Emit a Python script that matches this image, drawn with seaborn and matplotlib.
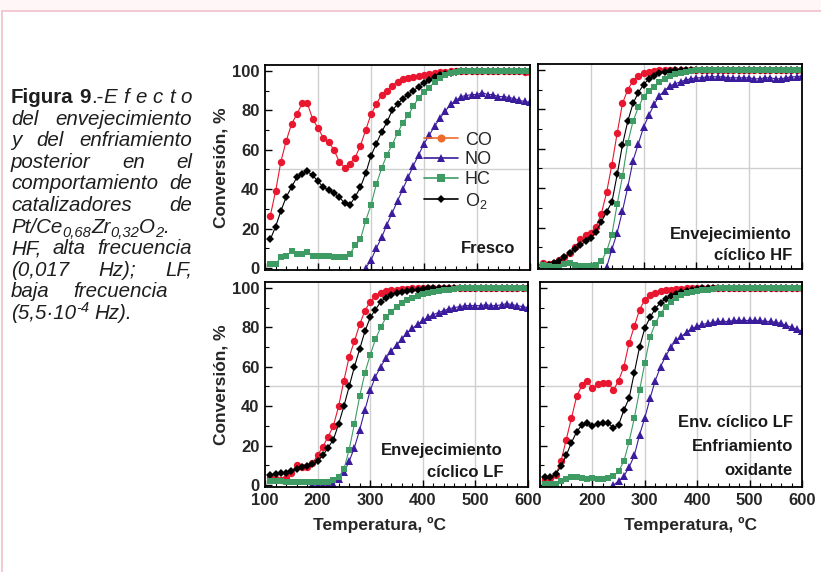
import numpy as np
import pandas as pd
import matplotlib
matplotlib.use("Agg")
import matplotlib.pyplot as plt
from matplotlib.lines import Line2D
from matplotlib.patches import Rectangle
from matplotlib.ticker import MultipleLocator
from matplotlib import font_manager
import seaborn as sns

nan = np.nan

# temperatures (ºC) of the measured points
temps = [110, 120, 130, 140, 150, 160, 170, 180, 190, 200,
         210, 220, 230, 240, 250, 260, 270, 280, 290, 300,
         310, 320, 330, 340, 350, 360, 370, 380, 390, 400,
         410, 420, 430, 440, 450, 460, 470, 480, 490, 500,
         510, 520, 530, 540, 550, 560, 570, 580, 590, 600]

# Fresco
co_fresco = [26.5, 39, 54, 64.5, 73, 78, 83.5, 83.5, 75.5, 71,
             66, 64, 60, 54, 51, 53, 56, 62, 70, 78,
             83, 88, 90, 92.5, 94.5, 96, 96.5, 97, 97.5, 98,
             98.5, 99, 99.5, 99.5, 100, 100, 100, 100, 100, 100,
             100, 100, 100, 100, 100, 100, 100, 100, 99.5, 99.5]
no_fresco = [nan, nan, nan, nan, nan, nan, nan, nan, nan, nan,
             nan, nan, nan, nan, nan, nan, nan, nan, 0, 4,
             10, 15.5, 22, 28, 34, 40, 46, 52, 57.5, 63,
             67.5, 72, 76, 79.5, 83, 85, 87, 87.5, 88, 88,
             89, 88, 88, 87, 87, 86.5, 86, 85, 84.5, 84]
hc_fresco = [2, 2, 5.5, 6, 8.5, 7, 7, 8, 6, 6,
             6, 6, 5.5, 5.5, 5.5, 7, 11.5, 14.5, 24, 32,
             42.5, 50.5, 57.5, 62.5, 68.5, 73.5, 77.5, 82, 86.5, 89.5,
             91.5, 94.5, 96.5, 98, 99, 99.5, 100, 100, 100, 100,
             100, 100, 100, 100, 100, 100, 100, 100, 100, 100]
o2_fresco = [14.5, 21, 29, 36, 41, 46, 47.5, 49, 47, 44,
             41, 39.5, 38, 36, 33, 32, 36, 41, 48, 57,
             63, 69, 74, 80, 83, 86, 88, 90, 92, 94,
             95.5, 97, 98, 98.5, 99, 99.5, 100, 100, 100, 100,
             100, 100, 100, 100, 100, 100, 100, 100, 100, 100]

# Envejecimiento ciclico HF
co_hf = [2, 1.5, 2, 3.5, 5, 7, 10, 14, 16, 17.5,
         20.5, 27, 38, 52, 68, 83, 90, 94.5, 97, 98.5,
         99, 99.5, 100, 100, 100, 100, 100, 100, 100, 100,
         100, 100, 100, 100, 100, 100, 100, 100, 100, 100,
         100, 100, 100, 100, 100, 100, 100, 100, 100, 100]
no_hf = [nan, nan, nan, nan, nan, nan, nan, nan, nan, nan,
         nan, nan, 0, 9, 17.5, 28.5, 40.5, 54, 62.5, 71,
         77, 82.5, 87, 89.5, 92, 93, 94, 95, 95.5, 96,
         96, 96.5, 96.5, 96.5, 96.5, 96, 96, 96, 96, 96,
         95.5, 95.5, 96, 96, 95.5, 95.5, 96, 96.5, 96.5, 97]
hc_hf = [1, 0.5, 0, 0, 1.5, 2, 1, 0.5, 0.5, 0.5,
         1, 3, 8, 16.5, 32, 46, 63, 74, 81, 86.5,
         89.5, 91.5, 94, 95.5, 97, 98, 98.5, 99, 99.5, 100,
         100, 100, 100, 100, 100, 100, 100, 100, 100, 100,
         100, 100, 100, 100, 100, 100, 100, 100, 100, 100]
o2_hf = [1, 1, 2, 3, 5, 7, 9, 11, 13, 14.5,
         18, 23, 28, 33, 47, 62, 74, 83, 88.5, 92.5,
         95.5, 97, 98.5, 99, 99.5, 100, 100, 100, 100, 100,
         100, 100, 100, 100, 100, 100, 100, 100, 100, 100,
         100, 100, 100, 100, 100, 100, 100, 100, 100, 100]

# Envejecimiento ciclico LF
co_lf = [4, 3, 2.5, 3.5, 6, 10, 9, 9, 11, 15,
         19.5, 24.5, 30, 40, 53, 65, 73, 81.5, 88.5, 93,
         96, 97.5, 98.5, 99, 99, 99.5, 99.5, 100, 100, 100,
         100, 100, 100, 100, 100, 100, 100, 100, 100, 100,
         100, 100, 100, 100, 100, 100, 100, 100, 100, 100]
no_lf = [nan, nan, nan, nan, nan, nan, nan, nan, 0, 0,
         0, 0, 0.5, 3, 6.5, 12, 19, 28, 38, 48,
         55, 60, 64.5, 68, 71, 74, 77, 79.5, 81.5, 83.5,
         85, 86.5, 87.5, 88.5, 89.5, 90, 90.5, 91, 91, 91,
         91, 91.5, 91, 91, 91.5, 92, 91.5, 91, 90.5, 90]
hc_lf = [2, 2, 2, 1.5, 1.5, 1.5, 1.5, 1.5, 1.5, 1.5,
         1.5, 1.5, 2.5, 4, 8, 18, 31, 45, 57, 66,
         74, 80, 85, 88, 90.5, 92.5, 94, 95, 96, 97,
         97.5, 98, 98.5, 99, 99, 99.5, 100, 100, 100, 100,
         100, 100, 100, 100, 100, 100, 100, 100, 100, 99.5]
o2_lf = [5, 5.5, 6, 6, 7, 8, 9, 9.5, 10.5, 12,
         15, 19, 23, 31, 40, 50, 60, 69, 78, 85,
         89, 93, 95, 96.5, 97.5, 98, 98.5, 99, 99, 99.5,
         100, 100, 100, 100, 100, 100, 100, 100, 100, 100,
         100, 100, 100, 100, 100, 100, 100, 100, 100, 100]

# Env. ciclico LF + enfriamiento oxidante
co_ox = [3, 3.5, 5, 12, 23, 34, 45, 50.5, 53, 49,
         51, 52, 52, 48, 53, 60, 72, 80.5, 89, 94,
         96.5, 97.5, 98.5, 99, 99, 99.5, 99.5, 100, 100, 100,
         100, 100, 100, 100, 100, 100, 100, 100, 100, 100,
         100, 100, 100, 100, 100, 100, 100, 100, 100, 100]
no_ox = [nan, nan, nan, nan, nan, nan, nan, nan, nan, nan,
         nan, nan, nan, 0, 2, 4.5, 9, 15, 25.5, 34,
         44, 53, 60, 65.5, 70, 73.5, 75.5, 77.5, 79.5, 80.5,
         81.5, 82, 82.5, 83, 83, 83, 83.5, 83.5, 83.5, 83.5,
         83.5, 83.5, 83, 83, 82.5, 82, 81, 80, 79, 78]
hc_ox = [0.5, 0.5, 0.5, 2, 3, 4, 4, 3.5, 3, 3.5,
         3, 3, 3.5, 4.5, 7, 12, 22, 34, 48, 62,
         75, 82, 87, 90.5, 93, 95, 96.5, 97.5, 98, 98.5,
         99, 99, 99.5, 100, 100, 100, 100, 100, 100, 100,
         100, 100, 100, 100, 100, 100, 100, 100, 100, 100]
o2_ox = [4, 4, 5.5, 9.5, 15, 21.5, 27, 30.5, 31.5, 30,
         31, 31.5, 31.5, 29, 30.5, 38, 44, 57, 70, 79.5,
         85, 89.5, 92.5, 94.5, 96, 97, 98, 98.5, 99, 99.5,
         100, 100, 100, 100, 100, 100, 100, 100, 100, 100,
         100, 100, 100, 100, 100, 100, 100, 100, 100, 100]

panel_labels = ["Fresco", "Envejecimiento\ncíclico HF",
                "Envejecimiento\ncíclico LF", "Env. cíclico LF\nEnfriamiento\noxidante"]
gases = ["CO", "O2", "NO", "HC"]          # drawing order
legend_gases = ["CO", "NO", "HC", "O2"]
legend_labels = ["CO", "NO", "HC", "O$_2$"]
x_ticks = [100, 200, 300, 400, 500, 600]
y_ticks = [0, 20, 40, 60, 80, 100]

caption_lines = [
    ("justify", [[("Figura", "b")], [("9", "b"), (".-", "r"), ("E", "i")], [("f", "i")],
                 [("e", "i")], [("c", "i")], [("t", "i")], [("o", "i")]]),
    ("justify", [[("del", "i")], [("envejecimiento", "i")]]),
    ("justify", [[("y", "i")], [("del", "i")], [("enfriamiento", "i")]]),
    ("justify", [[("posterior", "i")], [("en", "i")], [("el", "i")]]),
    ("justify", [[("comportamiento", "i")], [("de", "i")]]),
    ("justify", [[("catalizadores", "i")], [("de", "i")]]),
    ("left", [[("Pt/Ce", "i"), ("0,68", "sub"), ("Zr", "i"), ("0,32", "sub"),
               ("O", "i"), ("2", "sub"), (".", "i")]]),
    ("justify", [[("HF,", "i")], [("alta", "i")], [("frecuencia", "i")]]),
    ("justify", [[("(0,017", "i")], [("Hz);", "i")], [("LF,", "i")]]),
    ("short", [[("baja", "i")], [("frecuencia", "i")]]),
    ("left", [[("(5,5·10", "i"), ("-4", "sup")], [("Hz).", "i")]]),
]

# long table for seaborn
series = {
    0: {"CO": co_fresco, "NO": no_fresco, "HC": hc_fresco, "O2": o2_fresco},
    1: {"CO": co_hf, "NO": no_hf, "HC": hc_hf, "O2": o2_hf},
    2: {"CO": co_lf, "NO": no_lf, "HC": hc_lf, "O2": o2_lf},
    3: {"CO": co_ox, "NO": no_ox, "HC": hc_ox, "O2": o2_ox},
}
rows = []
for p, d in series.items():
    for g, vals in d.items():
        for t, v in zip(temps, vals):
            rows.append({"panel": p, "gas": g, "T": t, "conv": v})
df = pd.DataFrame(rows).dropna()

sns.set_style("ticks")
plt.rcParams["font.family"] = ["Liberation Sans", "DejaVu Sans"]
plt.rcParams["mathtext.fontset"] = "custom"
plt.rcParams["mathtext.rm"] = "Liberation Sans"
plt.rcParams["mathtext.it"] = "Liberation Sans:italic"
plt.rcParams["mathtext.bf"] = "Liberation Sans:bold"

names = {f.name for f in font_manager.fontManager.ttflist}
narrow = "Liberation Sans Narrow" in names
note_family = ["Liberation Sans Narrow", "Liberation Sans"] if narrow else ["Liberation Sans"]
note_size = 13.5 if narrow else 12

colors = {"CO": "#e8162e", "NO": "#3a1c9c", "HC": "#3e9b64", "O2": "#000000"}
legend_colors = {"CO": "#f06a2c", "NO": "#3a1c9c", "HC": "#3e9b64", "O2": "#000000"}
markers = {"CO": "o", "NO": "^", "HC": "s", "O2": "D"}
msizes = {"CO": 5.3, "NO": 5.2, "HC": 4.6, "O2": 3.6}

W, H = 821, 572
fig = plt.figure(figsize=(W / 100, H / 100), dpi=100)
fig.patch.set_facecolor("white")

# pink page border
fig.add_artist(Rectangle((0, 1 - 10 / H), 1, 10 / H, transform=fig.transFigure,
                         facecolor="#fff6f8", edgecolor="none"))
fig.add_artist(Line2D([2 / W, 1], [1 - 10.5 / H, 1 - 10.5 / H], transform=fig.transFigure,
                      color="#f2c4ce", lw=1.3))
fig.add_artist(Line2D([2 / W, 2 / W], [0, 1 - 10.5 / H], transform=fig.transFigure,
                      color="#f2c4ce", lw=1.3))


def px_axes(x0, y0, x1, y1):
    return fig.add_axes([x0 / W, 1 - y1 / H, (x1 - x0) / W, (y1 - y0) / H])


boxes = [(265, 65, 530, 270), (538, 64, 802, 269), (265, 282, 528, 487), (540, 282, 802, 487)]
note_pos = [(0.945, 0.085), (0.962, 0.045), (0.905, 0.05), (0.966, 0.06)]
note_spacing = [1.2, 1.48, 1.6, 1.72]
axes = []
for p, box in enumerate(boxes):
    ax = px_axes(*box)
    axes.append(ax)
    for g in gases:
        sub = df[(df.panel == p) & (df.gas == g)]
        sns.lineplot(data=sub, x="T", y="conv", ax=ax, color=colors[g], marker=markers[g],
                     markersize=msizes[g], markeredgewidth=0, linewidth=0.8,
                     errorbar=None, legend=False)
    for v in [200, 300, 400, 500]:
        ax.axvline(v, color="#cfcfcf", lw=1, zorder=0)
    ax.axhline(50, color="#cfcfcf", lw=1, zorder=0)
    ax.set_xlim(100, 600)
    ax.set_ylim(-1, 103)
    xl = [str(t) for t in x_ticks]
    if p == 3:
        xl[0] = ""
    ax.set_xticks(x_ticks, labels=xl, fontweight="bold", fontsize=12)
    ax.set_yticks(y_ticks, labels=[str(t) for t in y_ticks], fontweight="bold", fontsize=12)
    ax.xaxis.set_minor_locator(MultipleLocator(20))
    ax.yaxis.set_minor_locator(MultipleLocator(10))
    ax.tick_params(which="major", direction="in", length=5, width=1, pad=4, color="black")
    ax.tick_params(which="minor", direction="in", length=3, width=0.8, color="black")
    ax.tick_params(labelbottom=p >= 2, labelleft=p % 2 == 0)
    for s in ax.spines.values():
        s.set_color("black")
        s.set_linewidth(1.3)
    ax.set_xlabel("")
    ax.set_ylabel("")
    if p % 2 == 0:
        ax.set_ylabel("Conversión, %", fontweight="bold", fontsize=12.5)
        ax.yaxis.set_label_coords(-0.137, 0.5)
    if p >= 2:
        ax.set_xlabel("Temperatura, ºC", fontweight="bold", fontsize=12.5)
        ax.xaxis.set_label_coords(0.435 if p == 2 else 0.573, -0.145)
    ax.text(note_pos[p][0], note_pos[p][1], panel_labels[p], transform=ax.transAxes,
            ha="right", va="baseline", multialignment="right", linespacing=note_spacing[p],
            fontsize=note_size, fontweight="bold", family=note_family, color="#1a1a1a")

handles = [Line2D([], [], color=legend_colors[g], marker=markers[g], markersize=msizes[g] + 0.5,
                  markeredgewidth=0, lw=1.2) for g in legend_gases]
axes[0].legend(handles, legend_labels, loc="upper left", bbox_to_anchor=(0.6, 0.675),
               frameon=False, fontsize=13, handlelength=1.9, handletextpad=0.35,
               labelspacing=0.15, borderaxespad=0, borderpad=0)

# caption, laid out word by word to imitate the justified column
renderer = fig.canvas.get_renderer()
cap_size = 14.8
cap_color = "#1e1e1e"
cap_x0, cap_x1, cap_short = 11, 192, 168
cap_y0, cap_step = 103, 21.6
styles = {"b": dict(fontweight="bold"), "r": {}, "i": dict(fontstyle="italic"),
          "sub": dict(fontstyle="italic", fontsize=cap_size * 0.72),
          "sup": dict(fontstyle="italic", fontsize=cap_size * 0.72)}
rises = {"sub": -4, "sup": 7}
space_px = 5.6

for i, (mode, words) in enumerate(caption_lines):
    base = cap_y0 + i * cap_step
    built = []
    for word in words:
        pieces, w = [], 0
        for s, st in word:
            kw = dict(fontsize=cap_size, color=cap_color)
            kw.update(styles[st])
            t = fig.text(0, 0, s, va="baseline", ha="left", **kw)
            pieces.append((t, w, rises.get(st, 0)))
            w += t.get_window_extent(renderer).width
        built.append((pieces, w))
    total = sum(w for _, w in built)
    if mode == "left" or len(built) == 1:
        gap = space_px
    else:
        right = cap_x1 if mode == "justify" else cap_short
        gap = max((right - cap_x0 - total) / (len(built) - 1), 3.5)
    x = cap_x0
    for pieces, w in built:
        for t, off, rise in pieces:
            t.set_position(((x + off) / W, 1 - (base - rise) / H))
        x += w + gap

fig.savefig("out.png", dpi=100)
